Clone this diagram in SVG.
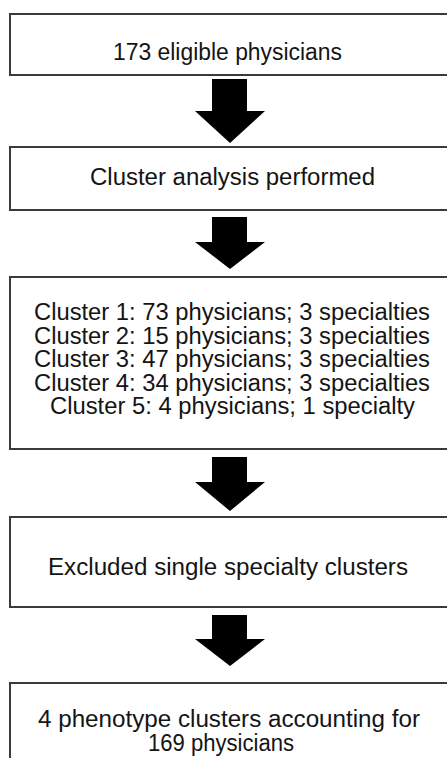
<svg xmlns="http://www.w3.org/2000/svg" width="447" height="758" viewBox="0 0 447 758">
<style>
.box{fill:#fff;stroke:#3a3a3a;stroke-width:2}
.t{font-family:"Liberation Sans",Arial,sans-serif;font-size:23px;fill:#141414;text-anchor:middle}
.arr{fill:#000}
</style>
<rect x="0" y="0" width="447" height="758" fill="#fff"/>
<g id="n1"><rect class="box" x="10" y="14" width="460" height="61"/>
<text class="t" x="227.5" y="60" textLength="229" lengthAdjust="spacingAndGlyphs">173 eligible physicians</text></g>
<g id="n2"><rect class="box" x="10" y="147" width="460" height="63"/>
<text class="t" x="232.5" y="185" textLength="285" lengthAdjust="spacingAndGlyphs">Cluster analysis performed</text></g>
<g id="n3"><rect class="box" x="10" y="277" width="460" height="172"/>
<text class="t" x="232" y="320" textLength="396" lengthAdjust="spacingAndGlyphs">Cluster 1: 73 physicians; 3 specialties</text>
<text class="t" x="232" y="343.5" textLength="396" lengthAdjust="spacingAndGlyphs">Cluster 2: 15 physicians; 3 specialties</text>
<text class="t" x="232" y="367" textLength="396" lengthAdjust="spacingAndGlyphs">Cluster 3: 47 physicians; 3 specialties</text>
<text class="t" x="232" y="390.5" textLength="396" lengthAdjust="spacingAndGlyphs">Cluster 4: 34 physicians; 3 specialties</text>
<text class="t" x="232.5" y="414" textLength="365" lengthAdjust="spacingAndGlyphs">Cluster 5: 4 physicians; 1 specialty</text></g>
<g id="n4"><rect class="box" x="10" y="517" width="460" height="90"/>
<text class="t" x="228" y="575" textLength="360" lengthAdjust="spacingAndGlyphs">Excluded single specialty clusters</text></g>
<g id="n5"><rect class="box" x="10" y="683" width="460" height="100"/>
<text class="t" x="229" y="726.5" textLength="382" lengthAdjust="spacingAndGlyphs">4 phenotype clusters accounting for</text>
<text class="t" x="221" y="750.5" textLength="146" lengthAdjust="spacingAndGlyphs">169 physicians</text></g>
<g id="connectors">
<polygon class="arr" points="212,79 247,79 247,111 265,111 230,143 195,111 212,111"/>
<polygon class="arr" points="212,217 247,217 247,242 265,242 230,269 195,242 212,242"/>
<polygon class="arr" points="212,457 247,457 247,482 265,482 230,511 195,482 212,482"/>
<polygon class="arr" points="212,615 247,615 247,639 265,639 230,666 195,639 212,639"/>
</g>
</svg>
